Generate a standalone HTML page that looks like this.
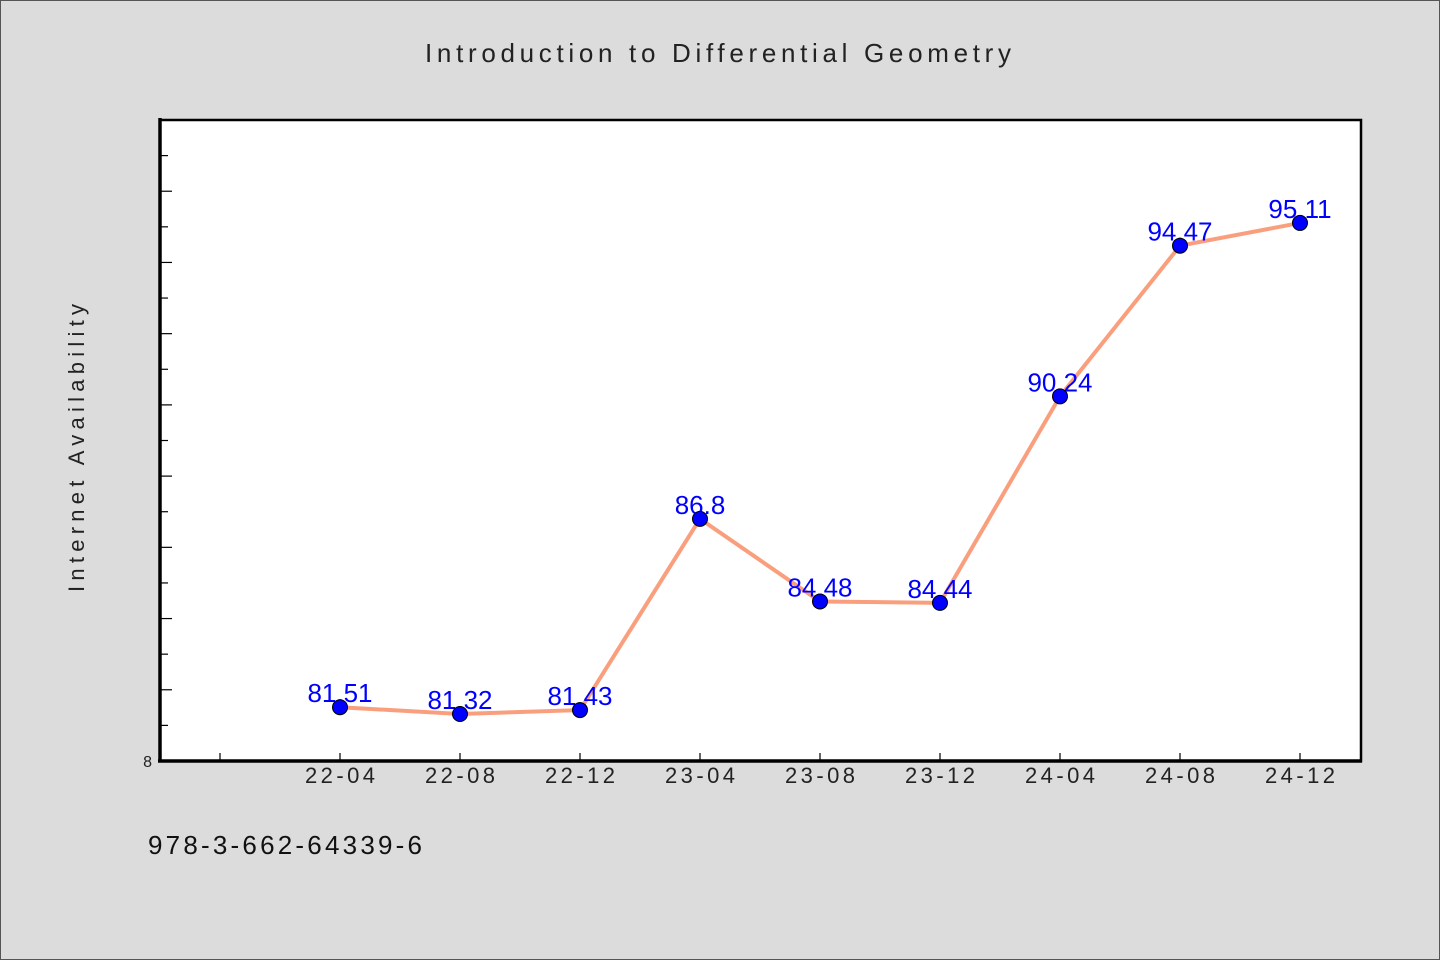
<!DOCTYPE html>
<html><head><meta charset="utf-8"><style>
body{margin:0;background:#dcdcdc;}
svg{display:block;}
text{font-family:"WenQuanYi Zen Hei","Liberation Sans",sans-serif;}
</style></head><body>
<svg id="chart" width="1440" height="960">
<rect x="0.5" y="0.5" width="1439" height="959" fill="#dcdcdc" stroke="#555"/>
<text x="718" y="62" text-anchor="middle" font-size="26" textLength="586" fill="#222">Introduction to Differential Geometry</text>
<rect x="160" y="120" width="1201" height="641" fill="#fff" stroke="#000" stroke-width="2.5"/>
<line x1="160" y1="118" x2="160" y2="762.5" stroke="#000" stroke-width="3.5"/>
<line x1="158" y1="761" x2="1362" y2="761" stroke="#000" stroke-width="3.5"/>
<text transform="translate(84,448) rotate(-90)" text-anchor="middle" font-size="22" textLength="288" fill="#222">Internet Availability</text>
<text x="148" y="854" font-size="26" textLength="274" fill="#111">978-3-662-64339-6</text>
<g id="ticks"></g><g id="series"></g>
</svg>
<script>
const categories=["22-04","22-08","22-12","23-04","23-08","23-12","24-04","24-08","24-12"];
const values=[81.51,81.32,81.43,86.8,84.48,84.44,90.24,94.47,95.11];
const labels=["81.51","81.32","81.43","86.8","84.48","84.44","90.24","94.47","95.11"];
const yMin=80,yMax=98;
const NS="http://www.w3.org/2000/svg";
function y(v){return 761-(v-yMin)*(641/(yMax-yMin));}
function x(i){return 340+i*120;}
function mk(t,a,p){const e=document.createElementNS(NS,t);for(const k in a)e.setAttribute(k,a[k]);p.appendChild(e);return e;}
const tk=document.getElementById('ticks'),sr=document.getElementById('series');
for(let v=yMin+1;v<yMax;v++){
 const l=mk('line',{x1:160,x2:(v-yMin)%2===0?172:168,y1:y(v),y2:y(v),stroke:'#000','stroke-width':1.2},tk);
 
 
}
const yl=mk('text',{x:152,y:767,'text-anchor':'end','font-size':16,fill:'#222'},tk);yl.textContent='8';


for(let i=-1;i<categories.length;i++){
 const l=mk('line',{x1:x(i),x2:x(i),y1:761,y2:753,stroke:'#000','stroke-width':1.2},tk);
 
 
 if(i>=0){const t=mk('text',{x:x(i),y:783,'text-anchor':'middle','font-size':22,textLength:70,fill:'#222'},tk);t.textContent=categories[i];
 
 }
}
const pl=mk('polyline',{points:values.map((v,i)=>x(i)+','+y(v)).join(' '),fill:'none',stroke:'#fa9f7d','stroke-width':4},sr);


values.forEach((v,i)=>{
 const t=mk('text',{x:x(i),y:y(v)-5,'text-anchor':'middle','font-size':26,fill:'#0000ff','font-family':'Liberation Sans, sans-serif'},sr);t.textContent=labels[i];
 
 
});
values.forEach((v,i)=>{
 const c=mk('circle',{cx:x(i),cy:y(v),r:7.5,fill:'#0000ff',stroke:'#000','stroke-width':1},sr);
 
 
});
</script>
</body></html>
